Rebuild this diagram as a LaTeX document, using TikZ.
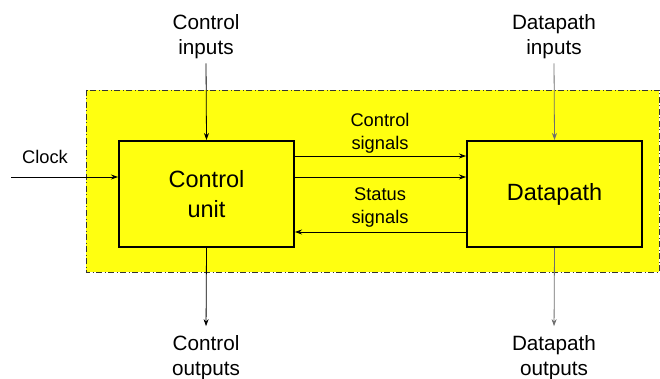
\documentclass[tikz,border=0pt]{standalone}
\usepackage{fontspec}
\setmainfont{Liberation Sans}
\usetikzlibrary{arrows.meta}
\definecolor{areafill}{RGB}{255,255,16}
\definecolor{dpline}{RGB}{110,110,110}
\tikzset{
  block/.style={draw=black, line width=2pt, fill=areafill, minimum width=175pt,
    minimum height=106pt, inner sep=0pt, align=center,
    font=\fontsize{23.5}{30}\selectfont},
  outerlabel/.style={align=center, inner sep=2pt, font=\fontsize{20.7}{25}\selectfont},
  siglabel/.style={align=center, inner sep=1pt, font=\fontsize{18.3}{23}\selectfont},
  flow/.style={line width=0.8pt, -{Stealth[length=7pt,width=5pt]}},
}
\begin{document}
\begin{tikzpicture}[x=1pt,y=-1pt]
\useasboundingbox (0,0) rectangle (660,379);
% shaded region holding the two units
\draw[fill=areafill, draw=black!80, line width=0.8pt,
      dash pattern=on 6pt off 2.5pt on 1pt off 2.5pt]
  (86,90) rectangle (659,272);

\node[block] (cu) at (206.5,194) {Control\\unit};
\node[block] (dp) at (554.5,194) {Datapath};

\node[outerlabel] (cin) at (206,37) {Control\\inputs};
\node[outerlabel] (din) at (554,37) {Datapath\\inputs};
\node[outerlabel] (cout) at (206,357.5) {Control\\outputs};
\node[outerlabel] (dout) at (554,357.5) {Datapath\\outputs};

\node[siglabel] (clk) at (45,157) {Clock};
\node[siglabel] (csig) at (380,133) {Control\\signals};
\node[siglabel] (ssig) at (380,207.5) {Status\\signals};

\coordinate (clkin) at (11,177);

\draw[flow, shorten <=2pt] (cin.south) -- (cu.north);
\draw[flow, draw=dpline, shorten <=2pt] (din.south) -- (dp.north);
\draw[flow, shorten >=7pt] (cu.south) -- (cout.north);
\draw[flow, draw=dpline, shorten >=7pt] (dp.south) -- (dout.north);

\draw[flow] (clkin) -- ([yshift=17pt]cu.west);
\draw[flow] ([yshift=38pt]cu.east) -- ([yshift=38pt]dp.west);
\draw[flow] ([yshift=17pt]cu.east) -- ([yshift=17pt]dp.west);
\draw[flow] ([yshift=-38pt]dp.west) -- ([yshift=-38pt]cu.east);
\end{tikzpicture}
\end{document}
